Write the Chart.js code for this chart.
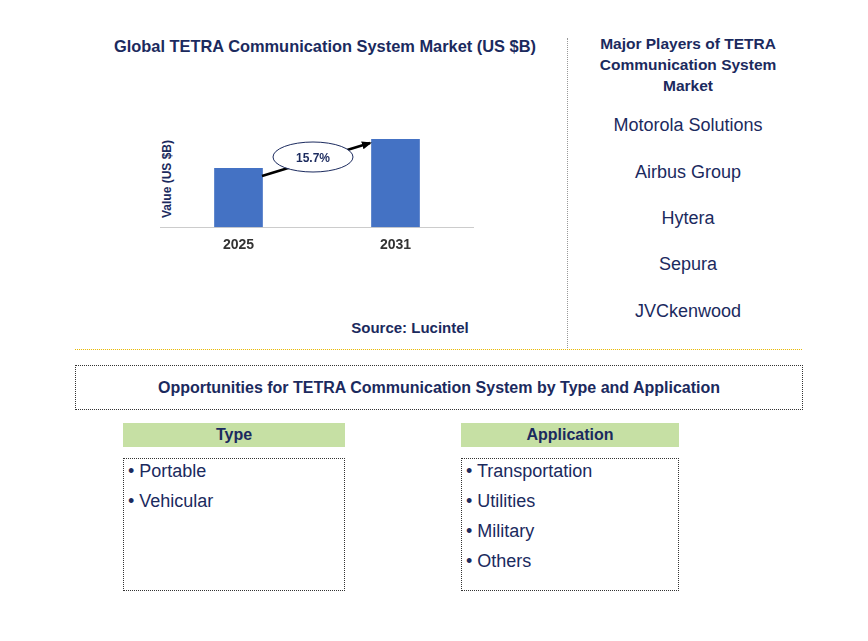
<!DOCTYPE html><html><head><script src="https://cdn.jsdelivr.net/npm/chart.js"></script>
<style>
body{margin:0;width:868px;height:641px;background:#fff;font-family:"Liberation Sans",Arial,sans-serif;position:relative;overflow:hidden}
.a{position:absolute}
.t{color:#1b2a5e;font-weight:bold}
.pl{color:#1b2a5e;font-size:18px;text-align:center;width:240px;left:568px}
.hd{background:#c6e0a4;color:#1b2a5e;font-weight:bold;font-size:16px;text-align:center;line-height:24px}
.bx{border:1px dotted #333;font-size:18px;color:#1b2a5e;padding:2px 0 0 4px;box-sizing:border-box}
.bx div{height:30px}
</style></head><body>
<div class="a t" style="left:90px;top:37px;width:470px;text-align:center;font-size:16.4px">Global TETRA Communication System Market (US $B)</div>
<div class="a t" style="left:588px;top:33px;width:200px;text-align:center;font-size:15.5px;line-height:21px">Major Players of TETRA Communication System Market</div>
<div class="a pl" style="top:115px">Motorola Solutions</div>
<div class="a pl" style="top:162px">Airbus Group</div>
<div class="a pl" style="top:208px">Hytera</div>
<div class="a pl" style="top:254px">Sepura</div>
<div class="a pl" style="top:301px">JVCkenwood</div>
<div class="a" style="left:567px;top:38px;height:310px;border-left:1px dotted #999"></div>
<div class="a" style="left:75px;top:349px;width:727px;border-top:1px dotted #e8b800"></div>
<div class="a t" style="left:295px;top:319px;width:230px;text-align:center;font-size:15px">Source: Lucintel</div>
<div class="a t" style="left:75px;top:365px;width:728px;height:45px;border:1px dotted #333;box-sizing:border-box;text-align:center;line-height:43px;font-size:16px">Opportunities for TETRA Communication System by Type and Application</div>
<div class="a hd" style="left:123px;top:423px;width:222px">Type</div>
<div class="a hd" style="left:461px;top:423px;width:218px">Application</div>
<div class="a bx" style="left:123px;top:458px;width:222px;height:133px"><div>• Portable</div><div>• Vehicular</div></div>
<div class="a bx" style="left:461px;top:458px;width:218px;height:133px"><div>• Transportation</div><div>• Utilities</div><div>• Military</div><div>• Others</div></div>
<div class="a t" style="width:90px;font-size:12px;transform:rotate(-90deg);transform-origin:0 0;top:224px;left:160px;text-align:center">Value (US $B)</div>
<div class="a" style="left:160px;top:103px;width:314px;height:153px"><canvas id="c" width="314" height="153"></canvas></div>
<svg class="a" style="left:0;top:0" width="868" height="641">
<defs><marker id="m" markerUnits="userSpaceOnUse" markerWidth="10" markerHeight="10" refX="8" refY="5" orient="auto"><path d="M0,1 L10,5 L0,9 z" fill="#000"/></marker></defs>
<line x1="262" y1="176" x2="370" y2="143" stroke="#000" stroke-width="2.5" marker-end="url(#m)"/>
<ellipse cx="313" cy="157" rx="40" ry="15" fill="#fff" stroke="#1b2a5e" stroke-width="1"/>
<text x="313" y="162" text-anchor="middle" font-family="Liberation Sans" font-weight="bold" font-size="12" fill="#1b2a5e">15.7%</text>
</svg>
<script>
const categories=["2025","2031"];
const values=[2.0,2.98];
new Chart(document.getElementById('c'),{type:'bar',data:{labels:categories,datasets:[{data:values,backgroundColor:'#4472c4',barPercentage:0.31,categoryPercentage:1}]},
options:{responsive:false,animation:false,layout:{padding:0},plugins:{legend:{display:false},tooltip:{enabled:false}},
scales:{y:{display:false,min:0,max:4.2},x:{grid:{display:false},border:{color:'#ccc'},ticks:{color:'#333',padding:2,font:{family:'Liberation Sans',weight:'bold',size:14}}}}}});
</script></body></html>
